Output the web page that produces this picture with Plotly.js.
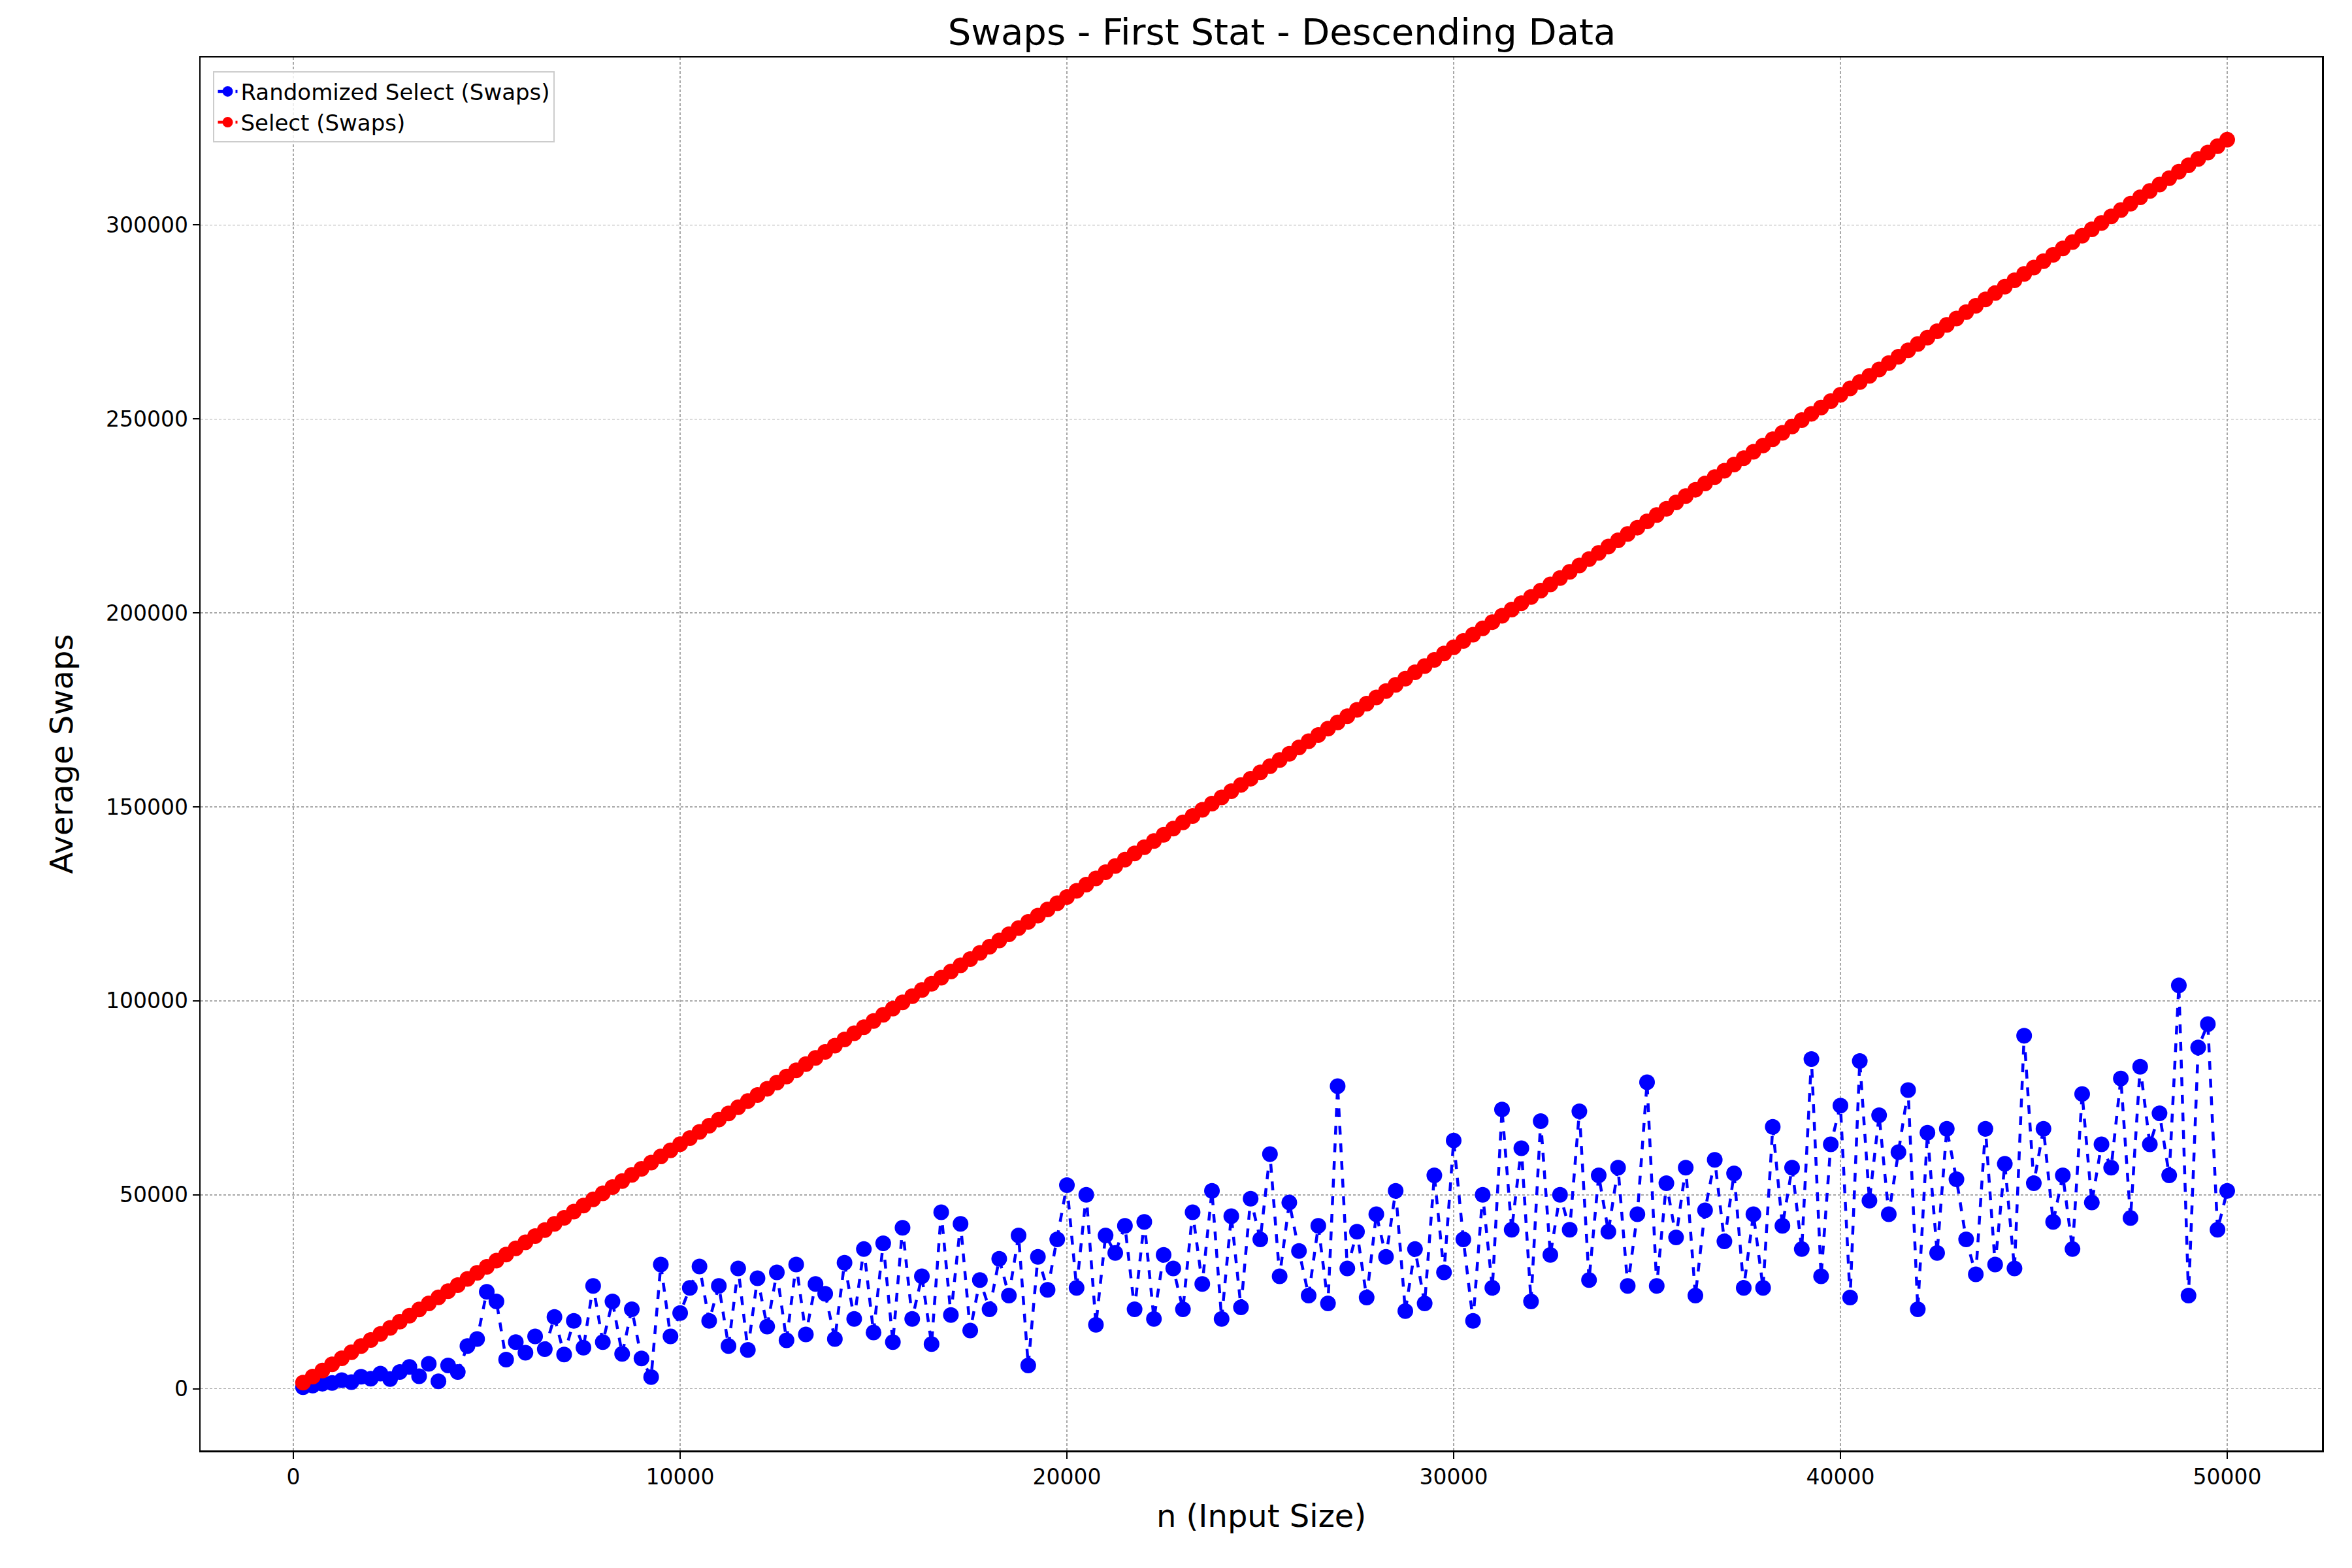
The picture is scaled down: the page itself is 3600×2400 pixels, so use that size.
<!DOCTYPE html>
<html>
<head>
<meta charset="utf-8">
<script src="https://cdn.plot.ly/plotly-3.0.1.min.js"></script>
<style>html,body{margin:0;padding:0;background:#fff}#plot{width:3600px;height:2400px}</style>
</head>
<body>
<div id="plot"></div>
<script>
// input sizes: 250, 500, ... 50000
const inputSizes = Array(200).fill().map((element, index) => (index + 1) * 250);

const randomizedSwaps = [
  400,800,1300,1500,2200,1700,3100,2600,3900,2500,4300,5600,3200,6400,1900,6000,4300,11000,12800,25000,
  22500,7500,12000,9300,13500,10200,18500,8800,17500,10600,26500,12000,22500,9000,20500,7800,3000,32000,13500,19500,
  26000,31500,17500,26500,11000,31000,10000,28500,16000,30000,12500,32000,14000,27000,24500,12800,32500,18000,36000,14500,
  37500,12000,41500,18000,29000,11500,45500,19000,42500,15000,28000,20500,33500,24000,39500,6000,34000,25500,38500,52500,
  26000,50000,16500,39500,35000,42000,20500,43000,18000,34500,31000,20500,45500,27000,51000,18000,44500,21000,49000,38500,
  60500,29000,48000,35500,24000,42000,22000,78000,31000,40500,23500,45000,34000,51000,20000,36000,22000,55000,30000,64000,
  38500,17500,50000,26000,72000,41000,62000,22500,69000,34500,50000,41000,71500,28000,55000,40500,57000,26500,45000,79000,
  26500,53000,39000,57000,24000,46000,59000,38000,55500,26000,45000,26000,67500,42000,57000,36000,85000,29000,63000,73000,
  23500,84500,48500,70500,45000,61000,77000,20500,66000,35000,67000,54000,38500,29500,67000,32000,58000,31000,91000,53000,
  67000,43000,55000,36000,76000,48000,63000,57000,80000,44000,83000,63000,71000,55000,104000,24000,88000,94000,41000,51000
];

const selectSwaps = [
  1570,3140,4710,6280,7850,9420,10990,12560,14130,15700,
  17270,18850,20420,22000,23570,25150,26720,28300,29870,31440,
  33020,34600,36180,37750,39330,40910,42490,44070,45650,47220,
  48800,50380,51960,53550,55130,56710,58290,59880,61460,63040,
  64630,66210,67800,69390,70970,72560,74150,75730,77320,78910,
  80500,82090,83680,85270,86860,88450,90040,91630,93220,94820,
  96410,98010,99600,101200,102790,104390,105980,107580,109170,110770,
  112370,113970,115570,117170,118770,120370,121970,123570,125160,126760,
  128360,129970,131570,133180,134780,136390,137990,139600,141200,142800,
  144410,146020,147630,149240,150840,152450,154060,155670,157270,158880,
  160490,162100,163710,165330,166940,168550,170160,171770,173380,175000,
  176610,178230,179850,181460,183080,184690,186310,187920,189540,191160,
  192780,194400,196020,197640,199260,200880,202500,204130,205750,207370,
  208990,210620,212240,213870,215490,217120,218740,220370,221990,223620,
  225240,226870,228500,230130,231760,233390,235020,236650,238280,239910,
  241540,243170,244810,246440,248070,249710,251340,252970,254610,256240,
  257880,259520,261150,262790,264430,266070,267710,269340,270980,272620,
  274260,275900,277540,279190,280830,282470,284110,285750,287400,289040,
  290680,292330,293980,295620,297270,298910,300560,302210,303850,305500,
  307150,308800,310450,312100,313750,315400,317050,318700,320350,322000
];

const xTicks = [0, 10000, 20000, 30000, 40000, 50000];
const yTicks = [0, 50000, 100000, 150000, 200000, 250000, 300000];

var trace1 = {
  x: inputSizes,
  y: randomizedSwaps,
  mode: 'lines+markers',
  name: 'Randomized Select (Swaps)',
  line: {color: '#0000ff', dash: 'dash', width: 4.5},
  marker: {color: '#0000ff', size: 24}
};

var trace2 = {
  x: inputSizes,
  y: selectSwaps,
  mode: 'lines+markers',
  name: 'Select (Swaps)',
  line: {color: '#ff0000', dash: 'dash', width: 4.5},
  marker: {color: '#ff0000', size: 24}
};

var axisStyle = {
  showline: true, mirror: true, linecolor: '#000', linewidth: 2.5,
  ticks: 'outside', ticklen: 10, tickwidth: 2, tickcolor: '#000',
  gridcolor: '#a8a8a8', griddash: '4px,3px', gridwidth: 1.5,
  zeroline: false, tickfont: {size: 33, color: '#000'}
};

var layout = {
  width: 3600, height: 2400,
  font: {family: 'DejaVu Sans', color: '#000'},
  paper_bgcolor: '#fff', plot_bgcolor: '#fff',
  margin: {l: 307, r: 46, t: 88, b: 180},
  title: {text: 'Swaps - First Stat - Descending Data', font: {size: 56}, x: 0.545, xanchor: 'center', y: 0.988, yanchor: 'top'},
  xaxis: Object.assign({}, axisStyle, {
    range: [-2400, 52450], tickvals: xTicks, ticktext: xTicks.map(String),
    title: {text: 'n (Input Size)', font: {size: 48}, standoff: 25}
  }),
  yaxis: Object.assign({}, axisStyle, {
    range: [-15900, 343200], tickvals: yTicks, ticktext: yTicks.map(String),
    title: {text: 'Average Swaps', font: {size: 48}, standoff: 35}
  }),
  legend: {
    x: 0.006, y: 0.99, xanchor: 'left', yanchor: 'top',
    bgcolor: 'rgba(255,255,255,0.8)', bordercolor: '#ccc', borderwidth: 2,
    font: {size: 34}
  },
  showlegend: true
};

window.addEventListener('load', (event) => {
  Plotly.newPlot('plot', [trace1, trace2], layout, {staticPlot: true});
});
</script>
</body>
</html>
